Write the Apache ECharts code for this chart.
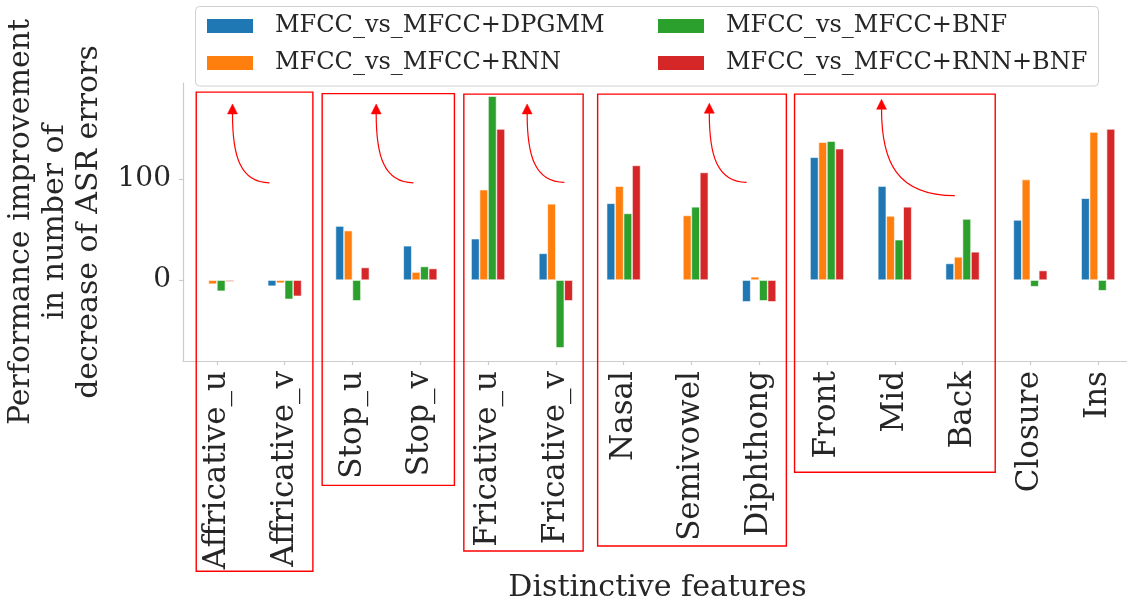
<!DOCTYPE html>
<html>
<head>
<meta charset="utf-8">
<script src="https://cdn.jsdelivr.net/npm/echarts@6/dist/echarts.min.js"></script>
<style>
html,body{margin:0;padding:0;background:#fff;}
#chart{width:1127px;height:599px;}
</style>
</head>
<body>
<div id="chart"></div>
<script>
// ---- data ----
const categories = ['Affricative_u','Affricative_v','Stop_u','Stop_v','Fricative_u','Fricative_v','Nasal','Semivowel','Diphthong','Front','Mid','Back','Closure','Ins'];
const seriesNames = ['MFCC_vs_MFCC+DPGMM','MFCC_vs_MFCC+RNN','MFCC_vs_MFCC+BNF','MFCC_vs_MFCC+RNN+BNF'];
const dpgmm   = [0, -6, 53.5, 34, 41, 26.5, 76, 0.5, -21.5, 121.5, 93, 16.5, 59.5, 81];
const rnn     = [-4, -3, 49, 8, 89.5, 75.5, 93, 64, 3.3, 136.5, 63.5, 23, 99.5, 146.5];
const bnf     = [-11, -19, -20.5, 13.5, 182, -67, 66, 72.5, -20.5, 137.5, 40, 60.5, -6.5, -10.5];
const rnnBnf  = [-1.5, -16, 12.5, 11.5, 149.5, -20.5, 113.5, 106.5, -21.5, 130, 72.5, 28, 9.5, 149.5];
const yTicks  = [0, 100];
const xTitle = 'Distinctive features';
const yTitle = 'Performance improvement\nin number of\ndecrease of ASR errors';

// annotation boxes in data units: [xStart, xEnd, yTop, yBottom]
const boxSpans = [
  [-0.305, 1.416, 186, -288],
  [1.553, 3.504, 184.5, -203],
  [3.643, 5.403, 184, -268],
  [5.617, 8.401, 184, -263],
  [8.522, 11.482, 184, -190]
];
// annotation arrows in data units: [tipX, tipY, tailX, tailY]
const arrowSpans = [
  [0.230, 174.3, 0.776, 96.3],
  [2.350, 174.3, 2.900, 96.3],
  [4.577, 174.3, 5.127, 96.7],
  [7.264, 175.0, 7.814, 96.7],
  [9.805, 178.9, 10.886, 83.5]
];

const colors = ['#1f77b4','#ff7f0e','#2ca02c','#d62728'];
const values = [dpgmm, rnn, bnf, rnnBnf];
const FONT = 'DejaVu Serif';
const TXT = '#262626';
const SPINE = '#cccccc';

const chart = echarts.init(document.getElementById('chart'), null, {renderer:'canvas'});

const legendCommon = {
  orient: 'vertical',
  padding: 0,
  itemWidth: 48,
  itemHeight: 16,
  itemGap: 13,
  icon: 'rect',
  textStyle: {fontFamily: FONT, fontSize: 24, color: TXT, lineHeight: 24, padding: [0,0,0,16]}
};

const option = {
  animation: false,
  backgroundColor: '#fff',
  color: colors,
  grid: {left: 183, right: -5, top: 83, bottom: 238, containLabel: false, outerBoundsMode: 'none'},
  legend: [
    Object.assign({left: 205, top: 14, data: [seriesNames[0], seriesNames[1]]}, legendCommon),
    Object.assign({left: 656, top: 14, data: [seriesNames[2], seriesNames[3]]}, legendCommon)
  ],
  xAxis: {
    type: 'category',
    data: categories,
    boundaryGap: true,
    name: xTitle,
    nameLocation: 'middle',
    nameGap: 208,
    nameTextStyle: {fontFamily: FONT, fontSize: 30, color: TXT},
    axisLine: {show: true, onZero: false, lineStyle: {color: SPINE, width: 1.2}},
    axisTick: {show: true, alignWithLabel: true, length: 4, lineStyle: {color: SPINE, width: 1.2}},
    axisLabel: {rotate: 90, fontFamily: FONT, fontSize: 31, color: TXT, margin: 10, interval: 0},
    splitLine: {show: false}
  },
  yAxis: {
    type: 'value',
    min: -80,
    max: 195,
    name: yTitle,
    nameLocation: 'middle',
    nameRotate: 90,
    nameGap: 74,
    nameTextStyle: {fontFamily: FONT, fontSize: 30, color: TXT, lineHeight: 34, align: 'center'},
    axisLine: {show: true, lineStyle: {color: SPINE, width: 1.2}},
    axisTick: {show: true, length: 4, customValues: yTicks, lineStyle: {color: SPINE, width: 1.2}},
    axisLabel: {customValues: yTicks, fontFamily: FONT, fontSize: 28, color: TXT, margin: 12},
    splitLine: {show: false}
  },
  series: seriesNames.map((n, i) => ({
    name: n,
    type: 'bar',
    data: values[i],
    barGap: '0%',
    barCategoryGap: '50%',
    itemStyle: {color: colors[i], borderColor: '#ffffff', borderWidth: 0.6}
  }))
};
chart.setOption(option);

function xPix(v) {
  const p0 = chart.convertToPixel({xAxisIndex: 0}, categories[0]);
  const p1 = chart.convertToPixel({xAxisIndex: 0}, categories[1]);
  return p0 + (p1 - p0) * v;
}
function yPix(v) {
  return chart.convertToPixel({yAxisIndex: 0}, v);
}

const graphics = [];
// legend frame
graphics.push({
  type: 'rect', z: 1,
  shape: {x: 195.5, y: 6.5, width: 903, height: 79.5, r: 4},
  style: {fill: 'rgba(255,255,255,0.8)', stroke: '#d0d0d0', lineWidth: 1}
});
boxSpans.forEach(b => {
  const x0 = xPix(b[0]), x1 = xPix(b[1]);
  const y0 = yPix(b[2]), y1 = yPix(b[3]);
  graphics.push({
    type: 'rect', z: 50, silent: true,
    shape: {x: x0, y: y0, width: x1 - x0, height: y1 - y0},
    style: {fill: 'none', stroke: '#ff0000', lineWidth: 1.4}
  });
});
arrowSpans.forEach(a => {
  const tx = xPix(a[0]), ty = yPix(a[1]);
  const sx = xPix(a[2]), sy = yPix(a[3]);
  const head = 10, hw = 5;
  const ex = tx, ey = ty + head;
  graphics.push({
    type: 'bezierCurve', z: 50, silent: true,
    shape: {
      x1: sx, y1: sy, x2: ex, y2: ey,
      cpx1: sx + 0.8 * (tx - sx), cpy1: sy,
      cpx2: tx, cpy2: sy + 0.4 * (ey - sy)
    },
    style: {stroke: '#ff0000', lineWidth: 1.2, fill: 'none'}
  });
  graphics.push({
    type: 'polygon', z: 50, silent: true,
    shape: {points: [[tx, ty], [tx - hw, ty + head], [tx + hw, ty + head]]},
    style: {fill: '#ff0000', stroke: '#ff0000', lineWidth: 0.5}
  });
});
chart.setOption({graphic: graphics});
</script>
</body>
</html>
